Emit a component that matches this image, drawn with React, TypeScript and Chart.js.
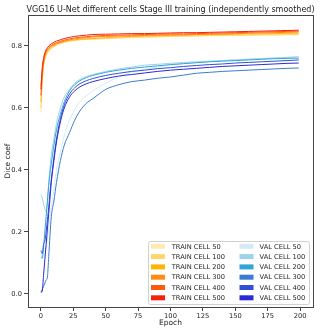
import React, { useEffect, useRef } from "react";
import { Chart, registerables } from "chart.js";

Chart.register(...registerables);

const TITLE = "VGG16 U-Net different cells Stage III training (independently smoothed)";
const X_LABEL = "Epoch";
const Y_LABEL = "Dice coef";
const X_TICKS = [0, 25, 50, 75, 100, 125, 150, 175, 200];
const Y_TICKS = [0.0, 0.2, 0.4, 0.6, 0.8];

const EPOCHS = [0, 1, 2, 3, 4, 5, 6, 7, 8, 10, 12, 15, 18, 22, 26, 30, 35, 40, 50, 60, 70, 80, 90, 100, 110, 120, 130, 140, 150, 160, 170, 180, 190, 199];

const LABELS = [
  "TRAIN CELL 50", "TRAIN CELL 100", "TRAIN CELL 200", "TRAIN CELL 300", "TRAIN CELL 400", "TRAIN CELL 500",
  "VAL CELL 50", "VAL CELL 100", "VAL CELL 200", "VAL CELL 300", "VAL CELL 400", "VAL CELL 500",
];

const TRAIN_50 = [0.585, 0.68, 0.73, 0.755, 0.768, 0.776, 0.782, 0.787, 0.791, 0.797, 0.802, 0.807, 0.811, 0.815, 0.818, 0.82, 0.822, 0.823, 0.825, 0.826, 0.827, 0.828, 0.829, 0.83, 0.831, 0.832, 0.833, 0.833, 0.834, 0.834, 0.835, 0.835, 0.836, 0.836];
const TRAIN_100 = [0.6, 0.69, 0.735, 0.758, 0.77, 0.778, 0.784, 0.789, 0.793, 0.798, 0.803, 0.808, 0.812, 0.816, 0.818, 0.82, 0.821, 0.822, 0.824, 0.826, 0.828, 0.829, 0.83, 0.831, 0.832, 0.833, 0.834, 0.834, 0.835, 0.835, 0.836, 0.836, 0.837, 0.837];
const TRAIN_200 = [0.62, 0.7, 0.74, 0.762, 0.774, 0.782, 0.788, 0.792, 0.796, 0.801, 0.806, 0.81, 0.814, 0.818, 0.82, 0.822, 0.823, 0.824, 0.827, 0.829, 0.831, 0.832, 0.833, 0.834, 0.835, 0.836, 0.837, 0.837, 0.838, 0.839, 0.839, 0.84, 0.841, 0.841];
const TRAIN_300 = [0.67, 0.72, 0.752, 0.77, 0.78, 0.787, 0.792, 0.796, 0.799, 0.804, 0.808, 0.812, 0.816, 0.82, 0.823, 0.825, 0.827, 0.829, 0.831, 0.832, 0.833, 0.834, 0.835, 0.836, 0.836, 0.837, 0.838, 0.839, 0.84, 0.841, 0.842, 0.843, 0.844, 0.845];
const TRAIN_400 = [0.64, 0.71, 0.75, 0.772, 0.783, 0.79, 0.795, 0.799, 0.802, 0.807, 0.811, 0.815, 0.819, 0.823, 0.826, 0.828, 0.83, 0.832, 0.834, 0.835, 0.836, 0.837, 0.838, 0.839, 0.839, 0.84, 0.841, 0.842, 0.843, 0.844, 0.845, 0.846, 0.847, 0.848];
const TRAIN_500 = [0.66, 0.73, 0.76, 0.778, 0.788, 0.795, 0.8, 0.804, 0.807, 0.812, 0.816, 0.82, 0.824, 0.828, 0.831, 0.833, 0.835, 0.837, 0.838, 0.839, 0.84, 0.84, 0.841, 0.842, 0.843, 0.843, 0.844, 0.845, 0.846, 0.847, 0.848, 0.849, 0.85, 0.851];

const VAL_50 = [0.13, 0.12, 0.12, 0.13, 0.15, 0.18, 0.21, 0.25, 0.28, 0.34, 0.4, 0.46, 0.51, 0.56, 0.595, 0.62, 0.64, 0.655, 0.68, 0.7, 0.715, 0.725, 0.732, 0.738, 0.743, 0.747, 0.75, 0.753, 0.756, 0.758, 0.76, 0.762, 0.764, 0.766];
const VAL_100 = [0.32, 0.31, 0.29, 0.275, 0.265, 0.3, 0.36, 0.41, 0.45, 0.5, 0.55, 0.6, 0.635, 0.66, 0.68, 0.692, 0.702, 0.708, 0.718, 0.726, 0.732, 0.738, 0.741, 0.744, 0.747, 0.749, 0.751, 0.753, 0.755, 0.757, 0.759, 0.761, 0.763, 0.765];
const VAL_200 = [0.12, 0.115, 0.15, 0.2, 0.25, 0.3, 0.35, 0.39, 0.42, 0.48, 0.53, 0.58, 0.62, 0.655, 0.675, 0.688, 0.698, 0.705, 0.715, 0.722, 0.728, 0.732, 0.736, 0.74, 0.743, 0.746, 0.749, 0.751, 0.753, 0.755, 0.757, 0.759, 0.76, 0.761];
const VAL_300 = [0.005, 0.015, 0.025, 0.035, 0.045, 0.055, 0.12, 0.19, 0.25, 0.3, 0.36, 0.43, 0.48, 0.52, 0.56, 0.59, 0.615, 0.63, 0.66, 0.675, 0.685, 0.69, 0.696, 0.7, 0.706, 0.712, 0.715, 0.718, 0.72, 0.722, 0.724, 0.726, 0.728, 0.729];
const VAL_400 = [0.14, 0.13, 0.16, 0.17, 0.2, 0.24, 0.28, 0.33, 0.37, 0.44, 0.5, 0.565, 0.61, 0.645, 0.665, 0.678, 0.688, 0.695, 0.705, 0.712, 0.718, 0.722, 0.727, 0.73, 0.734, 0.737, 0.74, 0.742, 0.745, 0.747, 0.749, 0.751, 0.753, 0.755];
const VAL_500 = [0.005, 0.01, 0.06, 0.11, 0.16, 0.21, 0.26, 0.31, 0.36, 0.43, 0.49, 0.555, 0.6, 0.635, 0.655, 0.668, 0.678, 0.685, 0.695, 0.703, 0.708, 0.713, 0.718, 0.722, 0.725, 0.728, 0.731, 0.734, 0.736, 0.738, 0.74, 0.742, 0.744, 0.745];

const SERIES = [TRAIN_50, TRAIN_100, TRAIN_200, TRAIN_300, TRAIN_400, TRAIN_500, VAL_50, VAL_100, VAL_200, VAL_300, VAL_400, VAL_500];

const COLORS = [
  "#ffe9b5", "#ffd66b", "#ffb400", "#ff8a14", "#ff5a0d", "#f5200a",
  "#d4ebf6", "#9ed2ea", "#2fa5d6", "#3a7bd5", "#3050d6", "#2a2ad6",
];

const FONT = "'DejaVu Sans', sans-serif";

export default function App() {
  const ref = useRef<HTMLCanvasElement>(null);

  useEffect(() => {
    const canvas = ref.current;
    if (!canvas) return;

    const datasets = SERIES.map((vals, i) => ({
      label: LABELS[i],
      data: EPOCHS.map((e, j) => ({ x: e, y: vals[j] })),
      borderColor: COLORS[i],
      backgroundColor: COLORS[i],
      borderWidth: 1,
      pointRadius: 0,
      fill: false,
      cubicInterpolationMode: "monotone" as const,
      order: SERIES.length - i,
    }));

    const decor = {
      id: "decor",
      afterDraw(chart: any) {
        const { ctx, chartArea: a } = chart;
        ctx.save();
        ctx.strokeStyle = "#444";
        ctx.lineWidth = 1;
        ctx.strokeRect(Math.round(a.left) + 0.5, Math.round(a.top) + 0.5, Math.round(a.right - a.left), Math.round(a.bottom - a.top));
        ctx.fillStyle = "#222";
        ctx.font = `8px ${FONT}`;
        ctx.textAlign = "center";
        ctx.textBaseline = "middle";
        ctx.fillText(TITLE, (a.left + a.right) / 2, 10);
        ctx.font = `7.5px ${FONT}`;
        ctx.fillText(X_LABEL, (a.left + a.right) / 2, 323);
        ctx.save();
        ctx.translate(8.5, (a.top + a.bottom) / 2);
        ctx.rotate(-Math.PI / 2);
        ctx.fillText(Y_LABEL, 0, 0);
        ctx.restore();
        const bx = 148, by = 241, bw = 161, bh = 63;
        ctx.fillStyle = "rgba(255,255,255,0.8)";
        ctx.strokeStyle = "#d0d0d0";
        ctx.beginPath();
        ctx.roundRect(bx + 0.5, by + 0.5, bw, bh, 2);
        ctx.fill();
        ctx.stroke();
        ctx.textAlign = "left";
        ctx.font = `6.7px ${FONT}`;
        chart.data.datasets.forEach((ds: any, i: number) => {
          const col = i < 6 ? 0 : 1;
          const row = i % 6;
          const y = 246.3 + row * 10.3;
          const px = col === 0 ? 151 : 239.5;
          const tx = col === 0 ? 171.7 : 259.5;
          ctx.fillStyle = ds.borderColor;
          ctx.fillRect(px, y - 2.5, 14, 5);
          ctx.fillStyle = "#222";
          ctx.fillText(ds.label, tx, y + 0.5);
        });
        ctx.restore();
      },
    };

    const chart = new Chart(canvas, {
      type: "line",
      data: { datasets },
      options: {
        animation: false,
        responsive: false,
        layout: { padding: { left: 0, right: 19, top: 15, bottom: 0 } },
        plugins: { legend: { display: false }, title: { display: false }, tooltip: { enabled: false } },
        scales: {
          x: {
            type: "linear",
            min: -10,
            max: 210,
            afterBuildTicks: (s: any) => { s.ticks = X_TICKS.map((v) => ({ value: v })); },
            afterFit: (s: any) => { s.height = 25; },
            grid: { drawOnChartArea: false, drawTicks: true, tickLength: 4, color: "#444" },
            border: { display: false },
            ticks: { font: { family: FONT, size: 6.7 }, color: "#222", padding: 1, maxRotation: 0, autoSkip: false },
          },
          y: {
            type: "linear",
            min: -0.042,
            max: 0.9,
            afterBuildTicks: (s: any) => { s.ticks = Y_TICKS.map((v) => ({ value: v })); },
            afterFit: (s: any) => { s.width = 28; },
            grid: { drawOnChartArea: false, drawTicks: true, tickLength: 4, color: "#444" },
            border: { display: false },
            ticks: { font: { family: FONT, size: 6.7 }, color: "#222", padding: 2, callback: (v: any) => Number(v).toFixed(1) },
          },
        },
      },
      plugins: [decor],
    });

    return () => chart.destroy();
  }, []);

  return (
    <div style={{ position: "fixed", left: 0, top: 0, width: 332, height: 332, background: "#fff" }}>
      <canvas ref={ref} width={332} height={332} style={{ display: "block" }} />
    </div>
  );
}
